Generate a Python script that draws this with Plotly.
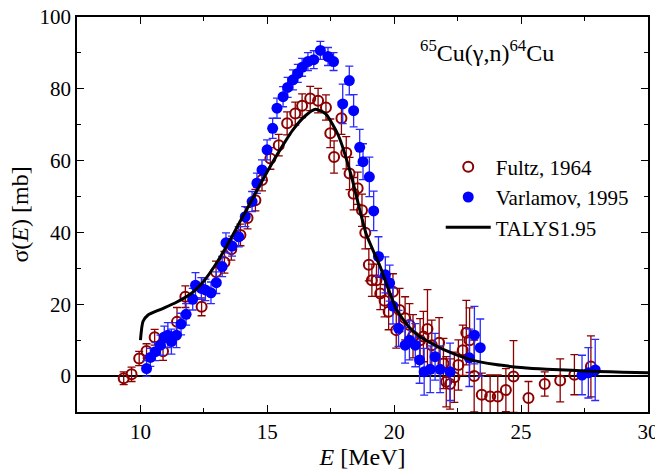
import plotly.graph_objects as go

# Fultz, 1964
fultz_E = [9.34, 9.65, 9.95, 10.24, 10.56, 10.89, 11.44, 11.77, 12.41, 12.98, 13.31, 13.58, 13.94, 14.22,
           14.53, 14.79, 15.12, 15.45, 15.78, 16.1, 16.37, 16.69, 17.0, 17.31, 17.48, 17.63, 17.92, 18.11,
           18.24, 18.4, 18.56, 18.73, 18.86, 19.0, 19.12, 19.3, 19.45, 19.62, 19.78, 19.95, 20.08, 20.21,
           20.43, 20.6, 20.74, 21.02, 21.15, 21.31, 21.48, 21.77, 21.94, 22.05, 22.2, 22.37, 22.53, 22.7,
           22.84, 22.97, 23.15, 23.45, 23.78, 24.08, 24.4, 24.7, 25.29, 25.93, 26.54, 27.1, 27.75]
fultz_sig = [-0.6, 0.5, 4.9, 7.0, 10.8, 6.9, 15.1, 22.1, 19.3, 29.0, 31.7, 35.3, 39.3, 44.0,
             49.0, 54.6, 60.6, 64.3, 70.4, 73.1, 75.3, 77.3, 76.7, 74.8, 67.6, 61.0, 71.8, 62.2,
             56.4, 50.8, 52.3, 46.2, 39.9, 31.0, 26.7, 26.7, 23.0, 21.0, 17.9, 23.5, 12.8, 18.4,
             16.1, 14.2, 11.1, 10.0, 11.0, 13.1, 8.6, 9.3, 3.5, -1.6, -2.2, -0.3, 3.1, 7.2,
             12.1, 10.0, 0.0, -5.2, -5.7, -5.7, -3.9, -0.1, -6.1, -2.2, -1.2, 0.4, 2.7]
fultz_err = [1.8, 2.0, 2.0, 2.0, 2.2, 2.5, 4.0, 3.0, 2.5, 3.0, 3.0, 3.0, 3.0, 3.0,
             3.0, 3.0, 3.0, 3.0, 3.2, 3.2, 3.3, 3.4, 3.4, 3.5, 4.0, 4.5, 4.5, 4.5,
             4.5, 4.5, 4.5, 4.5, 4.5, 4.5, 4.5, 4.5, 4.5, 4.5, 5.0, 5.0, 5.0, 6.0,
             6.0, 6.0, 6.0, 6.0, 7.0, 11.0, 7.0, 7.0, 7.0, 7.0, 7.0, 7.0, 7.0, 7.0,
             9.0, 9.0, 10.0, 6.0, 6.0, 6.0, 6.0, 10.0, 4.6, 3.4, 6.0, 5.6, 8.5]

# Varlamov, 1995
varl_E = [10.24, 10.39, 10.59, 10.79, 10.94, 11.08, 11.22, 11.42, 11.6, 11.8, 12.06, 12.17, 12.4, 12.56,
          12.78, 12.99, 13.22, 13.37, 13.61, 13.87, 14.13, 14.4, 14.59, 14.79, 14.99, 15.21, 15.38, 15.62,
          15.8, 16.01, 16.2, 16.37, 16.6, 16.83, 17.09, 17.39, 17.61, 17.97, 18.23, 18.4, 18.64, 18.77,
          19.02, 19.19, 19.38, 19.65, 19.82, 19.95, 20.17, 20.43, 20.6, 20.83, 21.0, 21.18, 21.42, 21.61,
          21.81, 22.2, 22.96, 23.16, 23.39, 27.4, 27.65, 27.92]
varl_sig = [2.1, 5.2, 6.8, 8.6, 10.9, 11.4, 9.6, 11.4, 14.5, 17.2, 21.4, 25.3, 24.4, 24.0,
            23.2, 26.0, 30.5, 37.1, 36.2, 38.8, 44.4, 48.6, 53.7, 57.4, 63.0, 69.0, 74.6, 77.8,
            80.4, 82.5, 84.3, 86.0, 87.6, 88.1, 90.7, 89.0, 87.6, 75.8, 82.3, 73.9, 63.7, 59.7,
            55.5, 46.0, 33.3, 28.2, 25.9, 19.5, 13.3, 8.6, 10.0, 8.6, 4.5, 1.2, 1.9, 5.4,
            1.9, 1.2, 5.1, 11.4, 7.9, 0.3, 0.9, 1.7]
varl_err = [2.2, 2.5, 2.5, 2.8, 3.0, 3.5, 3.5, 3.5, 3.0, 3.0, 3.0, 3.5, 3.0, 3.0,
            3.0, 3.0, 2.8, 2.8, 2.8, 2.8, 2.8, 2.8, 2.8, 2.8, 2.8, 2.8, 2.8, 2.8,
            2.8, 2.8, 2.5, 2.5, 2.5, 2.5, 2.5, 2.5, 2.5, 5.5, 4.0, 4.5, 5.0, 5.0,
            5.5, 5.5, 5.5, 5.0, 5.0, 5.0, 5.0, 5.0, 5.5, 6.0, 6.5, 6.5, 6.5, 6.5,
            6.5, 8.0, 8.0, 8.0, 8.0, 5.5, 7.0, 8.5]

# TALYS1.95
talys_E = [10.0, 10.1, 10.3, 10.8, 11.4, 12.0, 12.5, 13.0, 13.5, 14.0, 14.5, 15.0, 15.5, 16.0, 16.5,
           16.9, 17.3, 17.8, 18.3, 18.6, 18.9, 19.45, 20.1, 20.6, 21.0, 21.5, 22.0, 23.0, 24.0, 25.0,
           26.0, 27.0, 28.0, 29.0, 30.0]
talys_sig = [10.0, 15.2, 17.0, 18.6, 20.5, 23.0, 26.5, 31.5, 37.5, 44.0, 50.5, 57.0, 63.0, 68.5, 72.5,
             74.3, 73.0, 67.0, 56.0, 47.5, 39.5, 30.4, 18.4, 13.5, 11.0, 9.0, 7.2, 4.6, 3.2, 2.4,
             1.9, 1.6, 1.3, 1.1, 0.9]

x_ticks = [10, 15, 20, 25, 30]
y_ticks = [0, 20, 40, 60, 80, 100]

FONT = "Liberation Serif, Times New Roman, serif"
RED = "#8B0000"
BLUE = "#0000FF"

fig = go.Figure()
fig.add_trace(go.Scatter(
    x=fultz_E, y=fultz_sig, mode="markers", name="Fultz, 1964",
    marker=dict(symbol="circle-open", size=10, color=RED, line=dict(width=2, color=RED)),
    error_y=dict(type="data", array=fultz_err, color=RED, thickness=1.3, width=4),
))
fig.add_trace(go.Scatter(
    x=varl_E, y=varl_sig, mode="markers", name="Varlamov, 1995",
    marker=dict(symbol="circle", size=11, color=BLUE),
    error_y=dict(type="data", array=varl_err, color="#2a2aff", thickness=1.3, width=4),
))
fig.add_trace(go.Scatter(
    x=talys_E, y=talys_sig, mode="lines", name="TALYS1.95",
    line=dict(color="black", width=3, shape="spline", smoothing=0.6),
))

axis_common = dict(
    showline=True, linecolor="black", linewidth=1.5, mirror="allticks",
    ticks="inside", ticklen=7, tickwidth=1.2, tickcolor="black", automargin=False,
    showgrid=False, tickfont=dict(family=FONT, size=21, color="black"),
)
fig.update_xaxes(
    range=[7.5, 30], tickvals=x_ticks, zeroline=False, ticklabeloverflow="allow",
    minor=dict(ticks="inside", ticklen=4, tickcolor="black", dtick=2.5, tick0=0, showgrid=False),
    title=dict(text="<i>E</i> [MeV]", font=dict(family=FONT, size=24, color="black"), standoff=4),
    **axis_common)
fig.update_yaxes(
    range=[-10, 100], tickvals=y_ticks,
    zeroline=True, zerolinecolor="black", zerolinewidth=1.5,
    minor=dict(ticks="inside", ticklen=4, tickcolor="black", dtick=10, tick0=0, showgrid=False),
    title=dict(text="σ(<i>E</i>) [mb]", font=dict(family=FONT, size=24, color="black"), standoff=4),
    **axis_common)

fig.add_annotation(
    x=0.598, y=0.915, xref="paper", yref="paper", xanchor="left", yanchor="middle",
    text="<sup>65</sup>Cu(γ,n)<sup>64</sup>Cu", showarrow=False,
    font=dict(family=FONT, size=24, color="black"))

fig.update_layout(
    width=655, height=470, margin=dict(l=77, r=7, t=17, b=58),
    plot_bgcolor="white", paper_bgcolor="white",
    font=dict(family=FONT, color="black"),
    legend=dict(x=0.637, y=0.672, xanchor="left", yanchor="top", bgcolor="rgba(0,0,0,0)",
                font=dict(family=FONT, size=21, color="black"), itemwidth=45),
    showlegend=True,
)
fig.write_html("out.html")
